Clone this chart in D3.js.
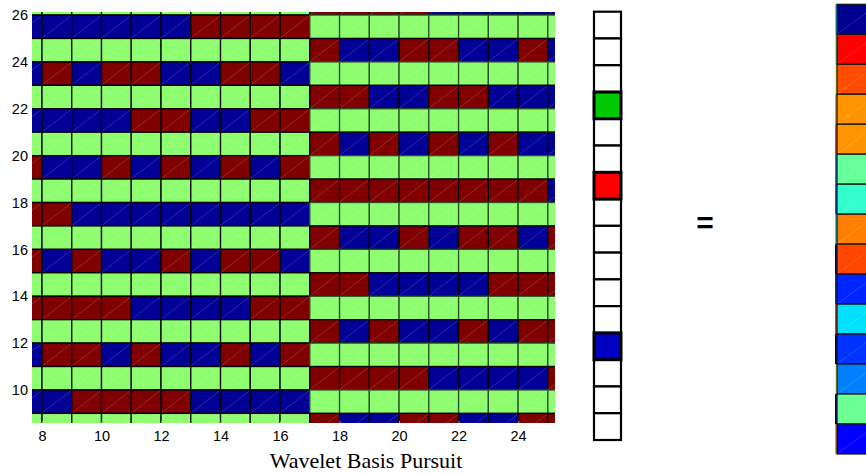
<!DOCTYPE html>
<html>
<head>
<meta charset="utf-8">
<script src="https://cdn.jsdelivr.net/npm/d3@7"></script>
<style>
  body { margin: 0; background: #fff; }
  svg { display: block; }
</style>
</head>
<body>
<svg id="chart" width="866" height="475"></svg>
<script>
// ---- data ----
// Dictionary matrix: rows listed from y=26 (top) down to y=8, columns x=7..25.
// G = light green, R = dark red, B = dark blue
const matrixCols = d3.range(7, 26);
const matrixRows = d3.range(26, 7, -1);
const matrixCells = [
  "GGGGGGGGGGRRRRBBBBB", // 26
  "BBBBBBRRRRGGGGGGGGG", // 25
  "GGGGGGGGGGRBBRRBBRB", // 24
  "BRBRRBBRRBGGGGGGGGG", // 23
  "GGGGGGGGGGRRBBRRBBB", // 22
  "BBBBRRBBRRGGGGGGGGG", // 21
  "GGGGGGGGGGRBRBRBRBB", // 20
  "RBBRBRBRBRGGGGGGGGG", // 19
  "GGGGGGGGGGRRRRRRRRB", // 18
  "RRBBBBBBBBGGGGGGGGG", // 17
  "GGGGGGGGGGRBBRBRRBR", // 16
  "RBRBBRBRRBGGGGGGGGG", // 15
  "GGGGGGGGGGRRBBBBRRR", // 14
  "RRRRBBBBRRGGGGGGGGG", // 13
  "GGGGGGGGGGRBRBBRBRR", // 12
  "BRRBRBBRBRGGGGGGGGG", // 11
  "GGGGGGGGGGRRRRBBBBR", // 10
  "BBRRRRBBBBGGGGGGGGG", // 9
  "GGGGGGGGGGRBBRRBBRR"  // 8
];
const xTicks = [8, 10, 12, 14, 16, 18, 20, 22, 24];
const yTicks = [10, 12, 14, 16, 18, 20, 22, 24, 26];
const xLabel = "Wavelet Basis Pursuit";

// Sparse coefficient vector (16 entries): 0 = empty, otherwise atom colour key
const coeffVector = ["0", "0", "0", "g", "0", "0", "r", "0", "0", "0", "0", "0", "b", "0", "0", "0"];

// Reconstructed signal, jet-scaled values (15 entries) and the neighbouring column
const signalValues = [0.016, 0.875, 0.80, 0.73, 0.73, 0.475, 0.425, 0.75, 0.805, 0.16, 0.345, 0.175, 0.25, 0.48, 0.125];
const prevColumnValues = [0.375, 0.48, 0.625, 0.73, 0.81, 0.26, 0.22, 0.35, 0.02, 0.16, 0.83, 0.0, 0.62, 0.04, 0.73];

// ---- colours ----
const matrixColor = { G: "#8efd70", R: "#800000", B: "#000096" };
const vectorColor = { "0": "#ffffff", g: "#00c800", r: "#ff0000", b: "#0000c0" };

function jet(v) {
  const c = t => Math.max(0, Math.min(1, t));
  const r = c(Math.min(4 * v - 1.5, -4 * v + 4.5));
  const g = c(Math.min(4 * v - 0.5, -4 * v + 3.5));
  const b = c(Math.min(4 * v + 0.5, -4 * v + 2.5));
  return d3.rgb(r * 255, g * 255, b * 255).formatHex();
}

const svg = d3.select("#chart");
const defs = svg.append("defs");

// ---- matrix panel ----
const plot = { left: 32, right: 555, top: 12, bottom: 423 };
const x = d3.scaleLinear().domain([7.664, 25.24]).range([plot.left, plot.right]);
const y = d3.scaleLinear().domain([8.59, 26.13]).range([plot.bottom, plot.top]);

defs.append("clipPath").attr("id", "plotClip")
  .append("rect")
  .attr("x", plot.left).attr("y", plot.top)
  .attr("width", plot.right - plot.left).attr("height", plot.bottom - plot.top);

const cellData = [];
matrixRows.forEach((r, i) => {
  matrixCols.forEach((c, j) => {
    cellData.push({ r, c, key: matrixCells[i][j] });
  });
});

const mg = svg.append("g").attr("clip-path", "url(#plotClip)");
mg.selectAll("rect.cell").data(cellData).join("rect")
  .attr("class", "cell")
  .attr("x", d => x(d.c))
  .attr("y", d => y(d.r + 1))
  .attr("width", d => x(d.c + 1) - x(d.c))
  .attr("height", d => y(d.r) - y(d.r + 1))
  .attr("fill", d => matrixColor[d.key])
  .attr("stroke", d => (d.c >= 17 && d.key === "G") ? "#2e4f2a" : "#000")
  .attr("stroke-width", 1.3);

// faint triangle seams across each cell
mg.selectAll("line.seam").data(cellData).join("line")
  .attr("class", "seam")
  .attr("x1", d => x(d.c) + 1).attr("y1", d => y(d.r) - 1)
  .attr("x2", d => x(d.c + 1) - 1).attr("y2", d => y(d.r + 1) + 1)
  .attr("stroke", "#ffffff").attr("stroke-opacity", 0.28).attr("stroke-width", 0.6);

// axes
const xAxis = svg.append("g")
  .attr("transform", `translate(0,${plot.bottom})`)
  .call(d3.axisBottom(x).tickValues(xTicks).tickSize(0).tickPadding(8));
const yAxis = svg.append("g")
  .attr("transform", `translate(${plot.left},0)`)
  .call(d3.axisLeft(y).tickValues(yTicks).tickSize(0).tickPadding(4));
[xAxis, yAxis].forEach(a => {
  a.select(".domain").remove();
  a.selectAll("text")
    .attr("font-family", "'Liberation Sans', Arial, sans-serif")
    .attr("font-size", 14.5)
    .attr("fill", "#000");
});
xAxis.selectAll(".tick").append("line")
  .attr("y1", -2).attr("y2", 0).attr("stroke", "#999");

svg.append("text")
  .attr("x", 366).attr("y", 468)
  .attr("text-anchor", "middle")
  .attr("font-family", "'Liberation Serif', 'Times New Roman', serif")
  .attr("font-size", 22)
  .attr("fill", "#000")
  .text(xLabel);

// ---- coefficient vector ----
defs.append("filter").attr("id", "soft")
  .append("feGaussianBlur").attr("stdDeviation", 0.7);

const vy = d3.scaleBand().domain(d3.range(coeffVector.length)).range([11.7, 440]);
const vg = svg.append("g").attr("filter", "url(#soft)");
vg.selectAll("rect").data(coeffVector).join("rect")
  .attr("x", 594).attr("width", 27)
  .attr("y", (d, i) => vy(i))
  .attr("height", vy.bandwidth())
  .attr("fill", d => vectorColor[d])
  .attr("stroke", "#000")
  .attr("stroke-width", d => d === "0" ? 2.2 : 3);
// coloured entries drawn on top so their heavier frames stay visible
vg.selectAll("rect").filter(d => d !== "0").raise();

svg.append("text")
  .attr("x", 705).attr("y", 233)
  .attr("text-anchor", "middle")
  .attr("font-family", "'Liberation Sans', Arial, sans-serif")
  .attr("font-weight", "bold")
  .attr("font-size", 30)
  .attr("fill", "#000")
  .text("=");

// ---- reconstructed signal ----
const sy = d3.scaleBand().domain(d3.range(signalValues.length)).range([4.3, 454]);
defs.append("clipPath").attr("id", "sigClip")
  .append("rect").attr("x", 835).attr("y", 0).attr("width", 40).attr("height", 475);
const sg = svg.append("g").attr("clip-path", "url(#sigClip)");

sg.selectAll("rect.prev").data(prevColumnValues).join("rect")
  .attr("class", "prev")
  .attr("x", 807).attr("width", 30)
  .attr("y", (d, i) => sy(i)).attr("height", sy.bandwidth())
  .attr("fill", d => jet(d));

sg.selectAll("rect.sig").data(signalValues).join("rect")
  .attr("class", "sig")
  .attr("x", 837).attr("width", 40)
  .attr("y", (d, i) => sy(i)).attr("height", sy.bandwidth())
  .attr("fill", d => jet(d))
  .attr("stroke", "#111").attr("stroke-width", 1.2);

sg.selectAll("line.seam").data(signalValues).join("line")
  .attr("class", "seam")
  .attr("x1", 838).attr("y1", (d, i) => sy(i) + sy.bandwidth() - 1)
  .attr("x2", 877).attr("y2", (d, i) => sy(i) + 1)
  .attr("stroke", "#fff").attr("stroke-opacity", 0.25).attr("stroke-width", 0.6);
</script>
</body>
</html>
